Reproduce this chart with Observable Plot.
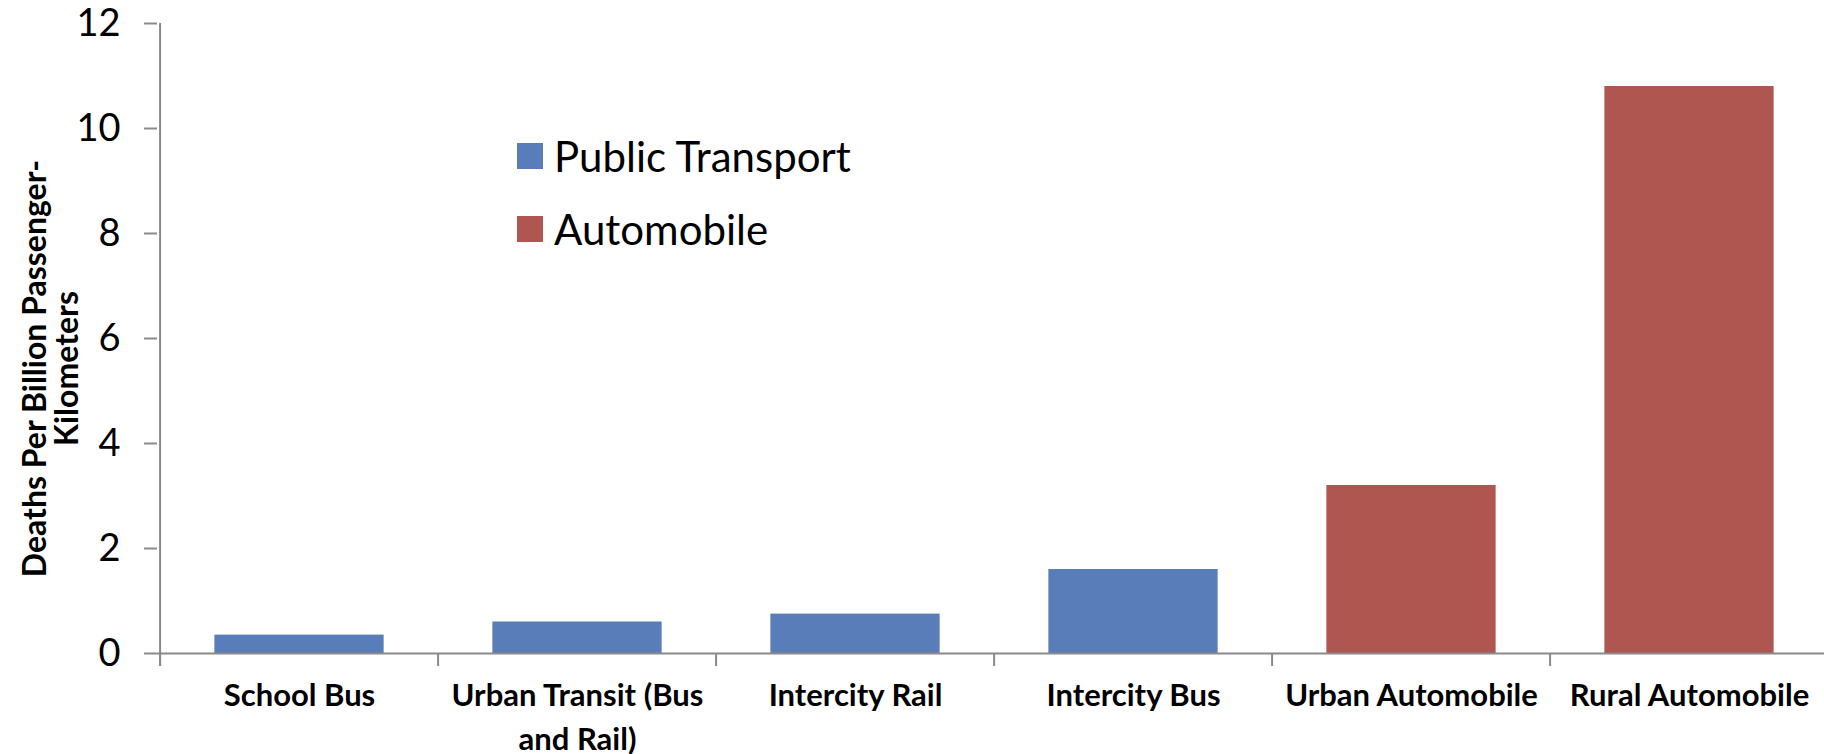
<!DOCTYPE html>
<html>
<head>
<meta charset="utf-8">
<script src="https://cdn.jsdelivr.net/npm/d3@7"></script>
<script src="https://cdn.jsdelivr.net/npm/@observablehq/plot@0.6"></script>
<style>
  html, body { margin: 0; padding: 0; background: #fff; }
  #wrap { position: relative; width: 1824px; height: 754px; font-family: Lato, "Open Sans", sans-serif; }
  #legend { position: absolute; left: 517px; top: 135px; }
  .item { display: flex; align-items: center; height: 42px; margin-bottom: 31px; font-size: 42px; line-height: 42px; color: #000; }
  .sw { width: 26px; height: 26px; margin-right: 11px; flex: none; }
</style>
</head>
<body>
<div id="wrap"></div>
<script>
// ---- data ----
const categories = ["School Bus", "Urban Transit (Bus and Rail)", "Intercity Rail", "Intercity Bus", "Urban Automobile", "Rural Automobile"];
const tickLabels = ["School Bus", "Urban Transit (Bus\nand Rail)", "Intercity Rail", "Intercity Bus", "Urban Automobile", "Rural Automobile"];
const values = [0.35, 0.6, 0.75, 1.6, 3.2, 10.8];
const groups = ["Public Transport", "Public Transport", "Public Transport", "Public Transport", "Automobile", "Automobile"];
const legendLabels = ["Public Transport", "Automobile"];
const colors = ["#597DB9", "#B05650"];
const yTicks = [0, 2, 4, 6, 8, 10, 12];
const yTitle = "Deaths Per Billion Passenger-\nKilometers";

// ---- layout ----
const W = 1824, H = 754;
const ml = 157, mr = -6, mt = 23, mb = 101;
const step = (W - ml - mr) / categories.length;
const barInset = step * 0.195;
const axisColor = "#8a8a8a";

const data = categories.map((c, i) => ({category: c, value: values[i], group: groups[i]}));
const labelOf = new Map(categories.map((c, i) => [c, tickLabels[i]]));

const chart = Plot.plot({
  width: W, height: H,
  marginLeft: ml, marginRight: mr, marginTop: mt, marginBottom: mb,
  style: {fontFamily: "Lato, 'Open Sans', sans-serif", background: "white", color: "black"},
  x: {domain: categories, padding: 0, axis: null},
  y: {domain: [0, 12], axis: null},
  color: {domain: legendLabels, range: colors},
  marks: [
    Plot.barY(data, {x: "category", y: "value", fill: "group", insetLeft: barInset, insetRight: barInset}),
    Plot.ruleY([0], {stroke: axisColor, strokeWidth: 2}),
    Plot.ruleX(categories, {x: d => d, y1: 0, y2: 0, dx: -step / 2, insetBottom: -13, stroke: axisColor, strokeWidth: 2}),
    Plot.ruleX([categories[0]], {x: d => d, y1: 12, y2: 0, dx: -step / 2, insetBottom: -13, stroke: axisColor, strokeWidth: 2}),
    Plot.axisY({ticks: yTicks, tickSize: 13, tickPadding: 24, fontSize: 38, stroke: axisColor, strokeWidth: 2, fill: "black", label: null}),
    Plot.axisX({tickSize: 0, tickPadding: 22, tickFormat: d => labelOf.get(d), fontSize: 31, fontWeight: "bold", lineHeight: 1.4, fill: "black", label: null}),
    Plot.text([yTitle], {frameAnchor: "left", textAnchor: "middle", lineAnchor: "middle", rotate: -90, dx: -106, dy: 30, text: d => d, fontSize: 32, fontWeight: "bold", lineHeight: 1.0, fill: "black"})
  ]
});

const wrap = document.getElementById("wrap");
wrap.appendChild(chart);

const legend = document.createElement("div");
legend.id = "legend";
legendLabels.forEach((l, i) => {
  const item = document.createElement("div");
  item.className = "item";
  const sw = document.createElement("span");
  sw.className = "sw";
  sw.style.background = colors[i];
  const t = document.createElement("span");
  t.textContent = l;
  item.appendChild(sw);
  item.appendChild(t);
  legend.appendChild(item);
});
wrap.appendChild(legend);
</script>
</body>
</html>
